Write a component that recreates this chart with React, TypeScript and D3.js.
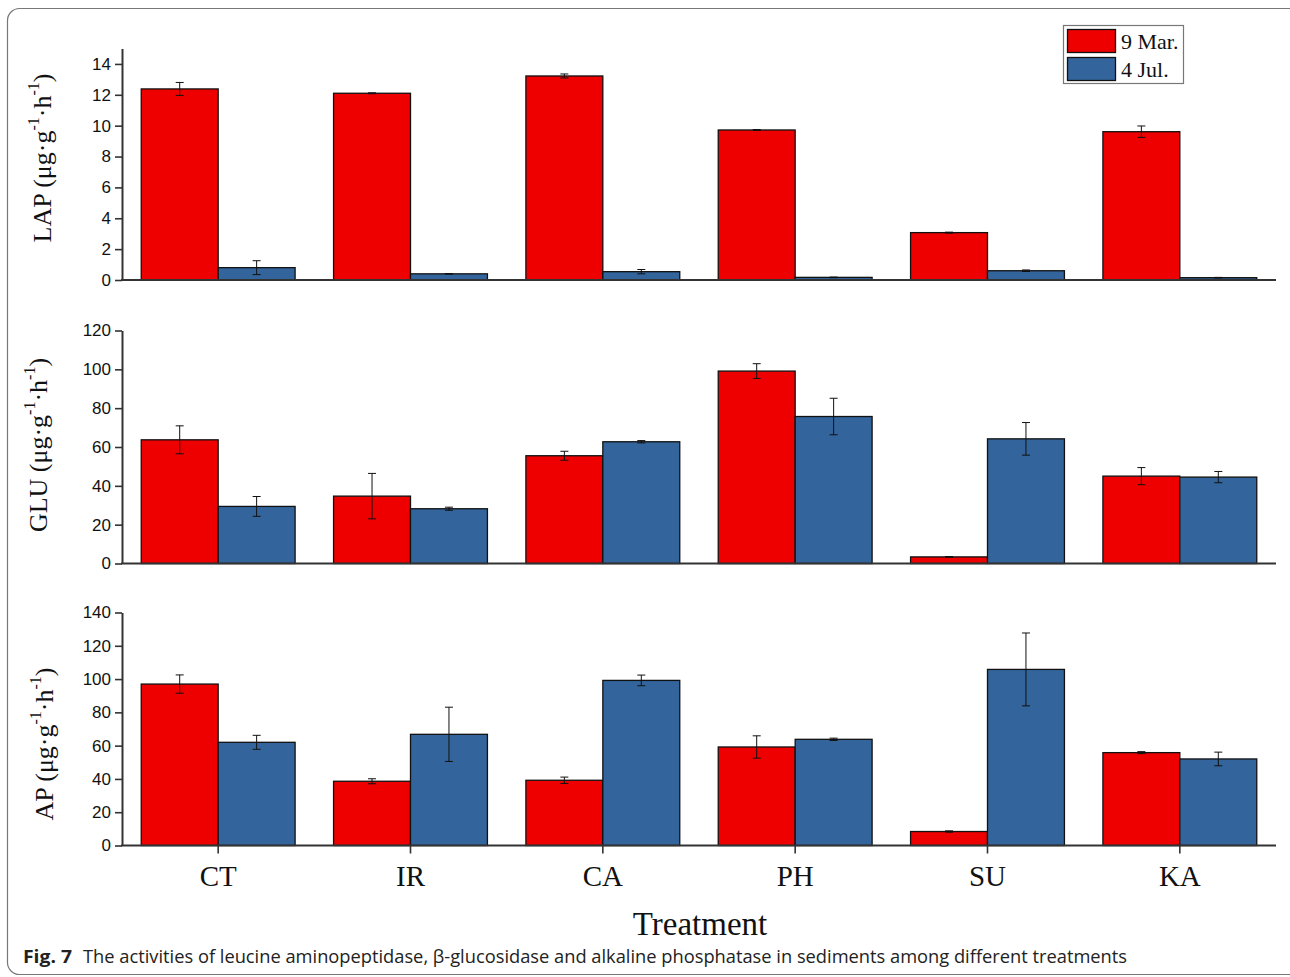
import React, { useEffect, useRef } from 'react'
import * as d3 from 'd3'

const treatments = ['CT', 'IR', 'CA', 'PH', 'SU', 'KA']
const seriesNames = ['9 Mar.', '4 Jul.']
const seriesColors = ['#ee0000', '#33659c']

// LAP
const lapMar = [12.38, 12.1, 13.22, 9.72, 3.07, 9.61]
const lapMarErr = [0.42, 0.03, 0.13, 0.03, 0.03, 0.37]
const lapJul = [0.8, 0.4, 0.54, 0.17, 0.6, 0.15]
const lapJulErr = [0.45, 0.02, 0.14, 0.02, 0.05, 0.02]
const lapTicks = [0, 2, 4, 6, 8, 10, 12, 14]

// GLU
const gluMar = [63.7, 34.7, 55.5, 99.1, 3.4, 45.0]
const gluMarErr = [7.2, 11.7, 2.3, 3.8, 0.2, 4.4]
const gluJul = [29.4, 28.2, 62.7, 75.7, 64.2, 44.5]
const gluJulErr = [5.1, 0.8, 0.6, 9.4, 8.4, 2.9]
const gluTicks = [0, 20, 40, 60, 80, 100, 120]

// AP
const apMar = [97.0, 38.6, 39.2, 59.2, 8.4, 55.8]
const apMarErr = [5.5, 1.5, 1.9, 6.7, 0.4, 0.6]
const apJul = [62.0, 66.8, 99.2, 63.8, 105.8, 52.0]
const apJulErr = [4.2, 16.3, 3.2, 0.7, 21.9, 4.1]
const apTicks = [0, 20, 40, 60, 80, 100, 120, 140]

const panels = [
  { name: 'LAP', vals: [lapMar, lapJul], errs: [lapMarErr, lapJulErr], ticks: lapTicks, max: 15, y0: 280, yTop: 48.5, labelY: 158, labelX: 42 },
  { name: 'GLU', vals: [gluMar, gluJul], errs: [gluMarErr, gluJulErr], ticks: gluTicks, max: 120, y0: 563.5, yTop: 330.5, labelY: 445, labelX: 38 },
  { name: 'AP', vals: [apMar, apJul], errs: [apMarErr, apJulErr], ticks: apTicks, max: 140, y0: 845.5, yTop: 612.5, labelY: 744, labelX: 44 },
]

const App = () => {
  const svgRef = useRef<SVGSVGElement>(null)

  useEffect(() => {
    const svg = d3.select(svgRef.current)
    svg.selectAll('*').remove()

    // frame
    svg.append('rect')
      .attr('x', 7.5).attr('y', 8.5).attr('width', 1300).attr('height', 966)
      .attr('rx', 12)
      .attr('fill', 'none').attr('stroke', '#777').attr('stroke-width', 1.2)

    const x = d3.scaleBand().domain(treatments).range([122, 1276]).padding(0)
    const barW = x.bandwidth() * 0.4

    panels.forEach((p, pi) => {
      const y = d3.scaleLinear().domain([0, p.max]).range([p.y0, p.yTop])
      const g = svg.append('g')

      // bars
      p.vals.forEach((vals, si) => {
        g.selectAll(null)
          .data(vals)
          .join('rect')
          .attr('x', (_, i) => x(treatments[i])! + x.bandwidth() / 2 - barW + si * barW)
          .attr('y', d => y(d))
          .attr('width', barW)
          .attr('height', d => y(0) - y(d))
          .attr('fill', seriesColors[si])
          .attr('stroke', '#111')
          .attr('stroke-width', 1.3)

        // error bars
        const errs = p.errs[si]
        vals.forEach((v, i) => {
          const cx = x(treatments[i])! + x.bandwidth() / 2 - barW / 2 + si * barW
          const e = errs[i]
          const top = y(v + e), bot = y(v - e)
          const eg = g.append('g').attr('stroke', '#111').attr('stroke-width', 1)
          eg.append('line').attr('x1', cx).attr('x2', cx).attr('y1', top).attr('y2', bot)
          eg.append('line').attr('x1', cx - 4).attr('x2', cx + 4).attr('y1', top).attr('y2', top)
          eg.append('line').attr('x1', cx - 4).attr('x2', cx + 4).attr('y1', bot).attr('y2', bot)
        })
      })

      // y axis
      const yAxis = d3.axisLeft(y).tickValues(p.ticks).tickSize(7).tickSizeOuter(0).tickPadding(4)
      const ya = g.append('g').attr('transform', 'translate(122,0)').call(yAxis)
      ya.select('.domain').attr('stroke', '#333').attr('stroke-width', 2)
      ya.selectAll('.tick line').attr('stroke', '#333').attr('stroke-width', 1.6)
      ya.selectAll('.tick text')
        .attr('font-family', 'Liberation Sans, Arial, sans-serif')
        .attr('font-size', 17).attr('fill', '#111')

      // x axis line
      g.append('line')
        .attr('x1', 121).attr('x2', 1276).attr('y1', p.y0).attr('y2', p.y0)
        .attr('stroke', '#333').attr('stroke-width', 2)

      if (pi === 2) {
        const xAxis = d3.axisBottom(x).tickSize(8).tickSizeOuter(0).tickPadding(12)
        const xa = g.append('g').attr('transform', `translate(0,${p.y0})`).call(xAxis)
        xa.select('.domain').remove()
        xa.selectAll('.tick line').attr('stroke', '#333').attr('stroke-width', 1.6)
        xa.selectAll('.tick text')
          .attr('font-family', 'Liberation Serif, Times New Roman, serif')
          .attr('font-size', 29).attr('fill', '#111')
      }

      // y title
      const t = g.append('text')
        .attr('transform', `translate(${p.labelX},${p.labelY}) rotate(-90)`)
        .attr('text-anchor', 'middle')
        .attr('dominant-baseline', 'central')
        .attr('font-family', 'Liberation Serif, Times New Roman, serif')
        .attr('font-size', 26).attr('fill', '#111')
      t.append('tspan').text(`${p.name} (μg·g`)
      t.append('tspan').attr('baseline-shift', 'super').attr('font-size', 16).text('-1')
      t.append('tspan').text('·h')
      t.append('tspan').attr('baseline-shift', 'super').attr('font-size', 16).text('-1')
      t.append('tspan').text(')')
    })

    // legend
    const lg = svg.append('g')
    lg.append('rect').attr('x', 1063.5).attr('y', 25.5).attr('width', 120).attr('height', 58)
      .attr('fill', '#fff').attr('stroke', '#777').attr('stroke-width', 1.2)
    seriesNames.forEach((n, i) => {
      lg.append('rect').attr('x', 1067.5).attr('y', 29.5 + i * 28).attr('width', 48).attr('height', 23)
        .attr('fill', seriesColors[i]).attr('stroke', '#111').attr('stroke-width', 1.3)
      lg.append('text').attr('x', 1121).attr('y', 48.5 + i * 28)
        .attr('font-family', 'Liberation Serif, Times New Roman, serif')
        .attr('font-size', 22).attr('fill', '#111').text(n)
    })

    // x title
    svg.append('text').attr('x', 700).attr('y', 935).attr('text-anchor', 'middle')
      .attr('font-family', 'Liberation Serif, Times New Roman, serif')
      .attr('font-size', 33).attr('fill', '#111').text('Treatment')

    // caption
    svg.append('text').attr('x', 23).attr('y', 963)
      .attr('font-family', 'Open Sans, Noto Sans, sans-serif').attr('font-weight', 'bold')
      .attr('font-size', 18).attr('fill', '#222')
      .attr('textLength', 49).attr('lengthAdjust', 'spacingAndGlyphs').text('Fig. 7')
    svg.append('text').attr('x', 83).attr('y', 963)
      .attr('font-family', 'Open Sans, Noto Sans, sans-serif')
      .attr('font-size', 18).attr('fill', '#222')
      .attr('textLength', 1044).attr('lengthAdjust', 'spacingAndGlyphs')
      .text('The activities of leucine aminopeptidase, β-glucosidase and alkaline phosphatase in sediments among different treatments')
  }, [])

  return (
    <svg ref={svgRef} width={1290} height={977}
      style={{ position: 'absolute', left: 0, top: 0, background: '#fff' }} />
  )
}

export default App
